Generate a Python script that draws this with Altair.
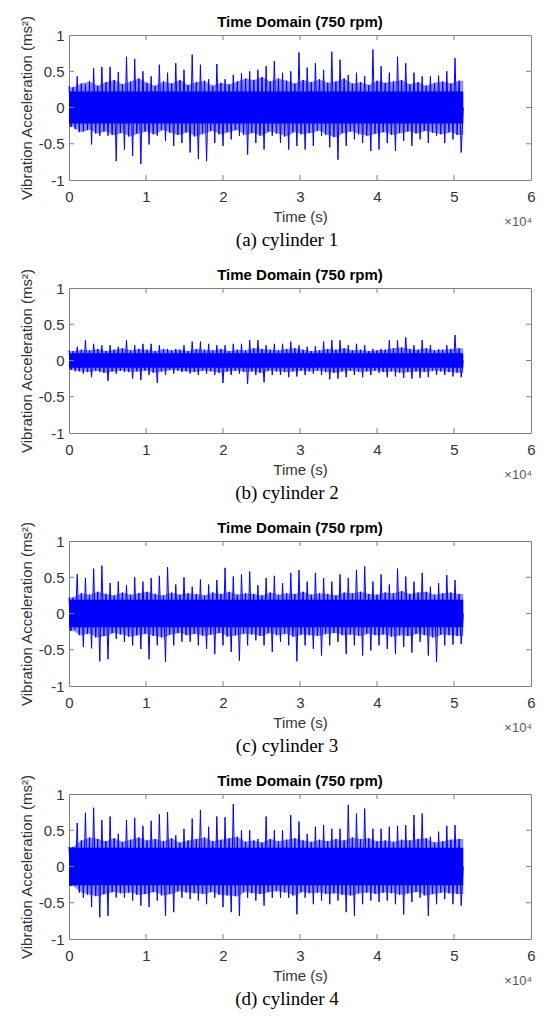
import altair as alt
import pandas as pd

# ---------------- data ----------------
TITLE = "Time Domain (750 rpm)"
CAPTIONS = ["(a) cylinder 1", "(b) cylinder 2", "(c) cylinder 3", "(d) cylinder 4"]
X_TICKS = [0, 1, 2, 3, 4, 5, 6]
Y_TICKS = [-1, -0.5, 0, 0.5, 1]
T_END = 5.12          # x 10^4 samples
N_CYC = 48            # spike cycles read per panel

# largest positive excursion in each cycle
up_1 = [0.30, 0.43, 0.32, 0.54, 0.56, 0.56, 0.49, 0.70, 0.67, 0.50, 0.43, 0.59, 0.48, 0.61, 0.52, 0.73,
        0.59, 0.39, 0.60, 0.39, 0.45, 0.47, 0.50, 0.52, 0.57, 0.64, 0.48, 0.50, 0.76, 0.55, 0.61, 0.52,
        0.77, 0.66, 0.45, 0.48, 0.43, 0.80, 0.57, 0.48, 0.70, 0.61, 0.48, 0.43, 0.43, 0.44, 0.50, 0.68]
down_1 = [-0.30, -0.33, -0.51, -0.39, -0.39, -0.74, -0.58, -0.67, -0.78, -0.51, -0.39, -0.46, -0.53, -0.49, -0.62, -0.71,
          -0.74, -0.49, -0.53, -0.44, -0.39, -0.65, -0.49, -0.58, -0.39, -0.49, -0.58, -0.53, -0.58, -0.53, -0.39, -0.55,
          -0.72, -0.53, -0.44, -0.49, -0.60, -0.58, -0.49, -0.60, -0.46, -0.53, -0.44, -0.49, -0.39, -0.49, -0.44, -0.62]
hi_1 = [0.28, 0.33, 0.36, 0.30, 0.35, 0.38, 0.32, 0.36, 0.40, 0.34, 0.30, 0.36, 0.33, 0.38, 0.31, 0.35,
        0.37, 0.30, 0.34, 0.32, 0.36, 0.40, 0.38, 0.42, 0.36, 0.40, 0.37, 0.33, 0.38, 0.35, 0.39, 0.34,
        0.36, 0.40, 0.33, 0.35, 0.31, 0.37, 0.34, 0.36, 0.38, 0.32, 0.35, 0.30, 0.34, 0.36, 0.33, 0.37]
lo_1 = [-0.27, -0.34, -0.31, -0.36, -0.33, -0.38, -0.35, -0.40, -0.36, -0.33, -0.37, -0.31, -0.35, -0.38, -0.34, -0.40,
        -0.36, -0.32, -0.37, -0.34, -0.31, -0.38, -0.35, -0.39, -0.33, -0.36, -0.40, -0.34, -0.37, -0.35, -0.32, -0.38,
        -0.41, -0.35, -0.33, -0.37, -0.39, -0.36, -0.34, -0.38, -0.35, -0.33, -0.36, -0.32, -0.35, -0.37, -0.34, -0.38]

up_2 = [0.14, 0.19, 0.28, 0.23, 0.21, 0.21, 0.19, 0.28, 0.21, 0.23, 0.23, 0.21, 0.16, 0.16, 0.21, 0.26,
        0.26, 0.23, 0.21, 0.21, 0.23, 0.23, 0.28, 0.28, 0.21, 0.23, 0.23, 0.26, 0.21, 0.19, 0.20, 0.26,
        0.28, 0.28, 0.21, 0.23, 0.21, 0.16, 0.16, 0.28, 0.28, 0.32, 0.21, 0.28, 0.21, 0.16, 0.21, 0.35]
down_2 = [-0.15, -0.18, -0.23, -0.16, -0.28, -0.18, -0.16, -0.25, -0.27, -0.20, -0.31, -0.20, -0.18, -0.16, -0.18, -0.20,
          -0.18, -0.20, -0.31, -0.20, -0.18, -0.32, -0.20, -0.30, -0.20, -0.20, -0.23, -0.22, -0.20, -0.18, -0.20, -0.26,
          -0.25, -0.23, -0.20, -0.23, -0.20, -0.17, -0.23, -0.22, -0.24, -0.25, -0.24, -0.23, -0.20, -0.20, -0.22, -0.23]
hi_2 = [0.13, 0.15, 0.14, 0.16, 0.13, 0.15, 0.17, 0.14, 0.16, 0.15, 0.13, 0.16, 0.14, 0.15, 0.13, 0.16,
        0.15, 0.14, 0.16, 0.13, 0.15, 0.14, 0.17, 0.16, 0.15, 0.14, 0.16, 0.17, 0.15, 0.13, 0.14, 0.16,
        0.15, 0.17, 0.14, 0.15, 0.13, 0.14, 0.15, 0.17, 0.18, 0.16, 0.15, 0.17, 0.14, 0.15, 0.16, 0.17]
lo_2 = [-0.13, -0.15, -0.16, -0.14, -0.17, -0.15, -0.14, -0.16, -0.15, -0.14, -0.17, -0.15, -0.13, -0.14, -0.15, -0.16,
        -0.14, -0.15, -0.17, -0.15, -0.14, -0.16, -0.15, -0.17, -0.14, -0.15, -0.16, -0.15, -0.14, -0.15, -0.14, -0.16,
        -0.17, -0.15, -0.14, -0.16, -0.15, -0.14, -0.16, -0.15, -0.17, -0.16, -0.15, -0.16, -0.14, -0.15, -0.16, -0.17]

up_3 = [0.22, 0.54, 0.49, 0.62, 0.66, 0.42, 0.44, 0.39, 0.50, 0.44, 0.49, 0.52, 0.64, 0.40, 0.50, 0.37,
        0.47, 0.40, 0.46, 0.63, 0.51, 0.54, 0.58, 0.39, 0.49, 0.52, 0.42, 0.56, 0.60, 0.44, 0.56, 0.49,
        0.44, 0.54, 0.49, 0.60, 0.65, 0.44, 0.54, 0.40, 0.62, 0.51, 0.44, 0.56, 0.37, 0.42, 0.53, 0.46]
down_3 = [-0.22, -0.46, -0.48, -0.66, -0.63, -0.35, -0.39, -0.44, -0.49, -0.63, -0.44, -0.67, -0.44, -0.39, -0.39, -0.44,
          -0.49, -0.56, -0.44, -0.53, -0.65, -0.44, -0.37, -0.44, -0.53, -0.39, -0.44, -0.66, -0.44, -0.49, -0.58, -0.44,
          -0.39, -0.56, -0.44, -0.58, -0.51, -0.44, -0.49, -0.56, -0.46, -0.54, -0.39, -0.58, -0.67, -0.44, -0.43, -0.42]
hi_3 = [0.22, 0.28, 0.26, 0.30, 0.27, 0.25, 0.29, 0.26, 0.28, 0.30, 0.27, 0.25, 0.29, 0.26, 0.28, 0.27,
        0.25, 0.29, 0.27, 0.30, 0.26, 0.28, 0.27, 0.25, 0.29, 0.26, 0.28, 0.27, 0.30, 0.26, 0.28, 0.27,
        0.25, 0.29, 0.28, 0.30, 0.27, 0.26, 0.29, 0.28, 0.31, 0.27, 0.29, 0.30, 0.26, 0.28, 0.29, 0.27]
lo_3 = [-0.24, -0.30, -0.28, -0.33, -0.31, -0.27, -0.29, -0.32, -0.30, -0.28, -0.31, -0.33, -0.29, -0.27, -0.30, -0.28,
        -0.31, -0.29, -0.27, -0.32, -0.30, -0.28, -0.29, -0.31, -0.27, -0.30, -0.28, -0.32, -0.29, -0.30, -0.31, -0.28,
        -0.27, -0.30, -0.29, -0.31, -0.28, -0.30, -0.29, -0.32, -0.30, -0.31, -0.28, -0.30, -0.33, -0.29, -0.30, -0.31]

up_4 = [0.27, 0.60, 0.74, 0.81, 0.64, 0.69, 0.45, 0.64, 0.67, 0.56, 0.63, 0.72, 0.75, 0.43, 0.52, 0.66,
        0.78, 0.55, 0.69, 0.68, 0.86, 0.50, 0.50, 0.38, 0.69, 0.50, 0.50, 0.71, 0.62, 0.45, 0.55, 0.57,
        0.52, 0.52, 0.85, 0.73, 0.80, 0.52, 0.52, 0.55, 0.56, 0.57, 0.71, 0.73, 0.41, 0.48, 0.56, 0.57]
down_4 = [-0.26, -0.43, -0.56, -0.70, -0.68, -0.43, -0.43, -0.47, -0.54, -0.56, -0.47, -0.68, -0.63, -0.43, -0.45, -0.47,
          -0.52, -0.43, -0.56, -0.63, -0.68, -0.43, -0.47, -0.54, -0.43, -0.43, -0.43, -0.66, -0.43, -0.52, -0.47, -0.52,
          -0.47, -0.63, -0.68, -0.52, -0.47, -0.49, -0.47, -0.52, -0.66, -0.49, -0.43, -0.68, -0.52, -0.45, -0.52, -0.54]
hi_4 = [0.27, 0.36, 0.40, 0.38, 0.35, 0.39, 0.34, 0.37, 0.40, 0.36, 0.38, 0.35, 0.39, 0.33, 0.36, 0.38,
        0.40, 0.35, 0.37, 0.39, 0.41, 0.34, 0.36, 0.33, 0.38, 0.35, 0.37, 0.39, 0.36, 0.34, 0.37, 0.35,
        0.38, 0.36, 0.40, 0.38, 0.39, 0.35, 0.36, 0.34, 0.37, 0.36, 0.38, 0.39, 0.33, 0.35, 0.37, 0.38]
lo_4 = [-0.27, -0.36, -0.39, -0.41, -0.38, -0.35, -0.37, -0.36, -0.39, -0.38, -0.35, -0.40, -0.38, -0.34, -0.36, -0.37,
        -0.38, -0.35, -0.39, -0.40, -0.41, -0.35, -0.37, -0.38, -0.35, -0.34, -0.36, -0.40, -0.35, -0.37, -0.36, -0.38,
        -0.37, -0.39, -0.40, -0.37, -0.36, -0.38, -0.36, -0.37, -0.39, -0.37, -0.35, -0.40, -0.38, -0.36, -0.37, -0.38]

# half-width of the solid dense core of each signal
core = [0.22, 0.10, 0.19, 0.26]

UP = [up_1, up_2, up_3, up_4]
DOWN = [down_1, down_2, down_3, down_4]
HI = [hi_1, hi_2, hi_3, hi_4]
LO = [lo_1, lo_2, lo_3, lo_4]

# ---------------- styling ----------------
W, H = 462, 145
BLUE = "#0000ff"
FRAME = "#808080"
TXT = "#333333"
SANS = "Liberation Sans"
SERIF = "Liberation Serif"
FS = 15

xscale = alt.Scale(domain=[0, 6], nice=False, zero=False)
yscale = alt.Scale(domain=[-1, 1], nice=False, zero=False)
xaxis = alt.Axis(values=X_TICKS, title="Time (s)", grid=False, domain=False, ticks=False,
                 labelPadding=9, titlePadding=5, labelFlush=False, format="d",
                 labelFont=SANS, labelFontSize=FS, labelColor=TXT,
                 titleFont=SANS, titleFontSize=FS, titleFontWeight="normal", titleColor=TXT)
yaxis = alt.Axis(values=Y_TICKS, title="Vibration Acceleration (ms²)", grid=False, domain=False,
                 ticks=False, labelPadding=5, titlePadding=4, labelFlush=False,
                 labelExpr="'' + datum.value",
                 labelFont=SANS, labelFontSize=FS, labelColor=TXT,
                 titleFont=SANS, titleFontSize=15, titleFontWeight="normal", titleColor=TXT)

X = alt.X("t:Q", scale=xscale, axis=xaxis)
Y = alt.Y("v:Q", scale=yscale, axis=yaxis)


def make_panel(k):
    step = T_END / N_CYC
    pts = []
    env = []
    for i in range(N_CYC):
        t0 = i * step
        # alternate sign at every vertex so each segment is a near-vertical stroke
        pts.append({"t": t0, "v": UP[k][i]})
        pts.append({"t": t0 + 0.25 * step, "v": LO[k][i]})
        pts.append({"t": t0 + 0.5 * step, "v": HI[k][i]})
        pts.append({"t": t0 + 0.75 * step, "v": DOWN[k][i]})
        env.append({"t": t0 + 0.5 * step, "v": LO[k][i], "v2": HI[k][i]})
    pts.append({"t": T_END, "v": 0.0})
    env = [{"t": 0.0, "v": LO[k][0], "v2": HI[k][0]}] + env + \
          [{"t": T_END, "v": LO[k][-1], "v2": HI[k][-1]}]
    sig = pd.DataFrame(pts)
    fringe_df = pd.DataFrame(env)

    band = pd.DataFrame({"t": [0.0, T_END], "v": [-core[k], -core[k]], "v2": [core[k], core[k]]})
    fringe = alt.Chart(fringe_df).mark_area(color=BLUE, opacity=0.45, interpolate="linear").encode(
        x=X, y=Y, y2="v2:Q")
    area = alt.Chart(band).mark_area(color=BLUE, opacity=1).encode(x=X, y=Y, y2="v2:Q")
    line = alt.Chart(sig).mark_line(color=BLUE, strokeWidth=1, interpolate="linear").encode(x=X, y=Y)

    xt = pd.DataFrame({"t": X_TICKS[1:-1]})
    yt = pd.DataFrame({"v": Y_TICKS[1:-1]})
    tick_b = alt.Chart(xt).mark_rule(color=FRAME, strokeWidth=1).encode(
        x=X, y=alt.value(H - 5), y2=alt.value(H))
    tick_t = alt.Chart(xt).mark_rule(color=FRAME, strokeWidth=1).encode(
        x=X, y=alt.value(0), y2=alt.value(5))
    tick_l = alt.Chart(yt).mark_rule(color=FRAME, strokeWidth=1).encode(
        y=Y, x=alt.value(0), x2=alt.value(5))
    tick_r = alt.Chart(yt).mark_rule(color=FRAME, strokeWidth=1).encode(
        y=Y, x=alt.value(W - 5), x2=alt.value(W))

    one = pd.DataFrame({"a": [0]})
    ttl = alt.Chart(one).mark_text(font=SANS, fontSize=15, fontWeight="bold", color="#000000",
                                   baseline="alphabetic", align="center").encode(
        x=alt.value(W / 2), y=alt.value(-8), text=alt.value(TITLE))
    cap = alt.Chart(one).mark_text(font=SERIF, fontSize=19, color="#000000", baseline="middle",
                                   align="center").encode(
        x=alt.value(218), y=alt.value(H + 60), text=alt.value(CAPTIONS[k]))
    expo = alt.Chart(one).mark_text(font=SANS, fontSize=13, color="#555555", baseline="alphabetic",
                                    align="right").encode(
        x=alt.value(W + 1), y=alt.value(H + 46), text=alt.value("×10⁴"))

    return alt.layer(fringe, area, line, tick_b, tick_t, tick_l, tick_r, ttl, cap, expo).properties(
        width=W, height=H)


chart = alt.vconcat(*[make_panel(k) for k in range(4)], spacing=108, bounds="flush").properties(
    padding={"left": 10, "top": 6, "right": 0, "bottom": 0},
    background="white"
).configure_view(stroke=FRAME, strokeWidth=1)

chart.save("out.html", embed_options={"renderer": "svg", "actions": False})
